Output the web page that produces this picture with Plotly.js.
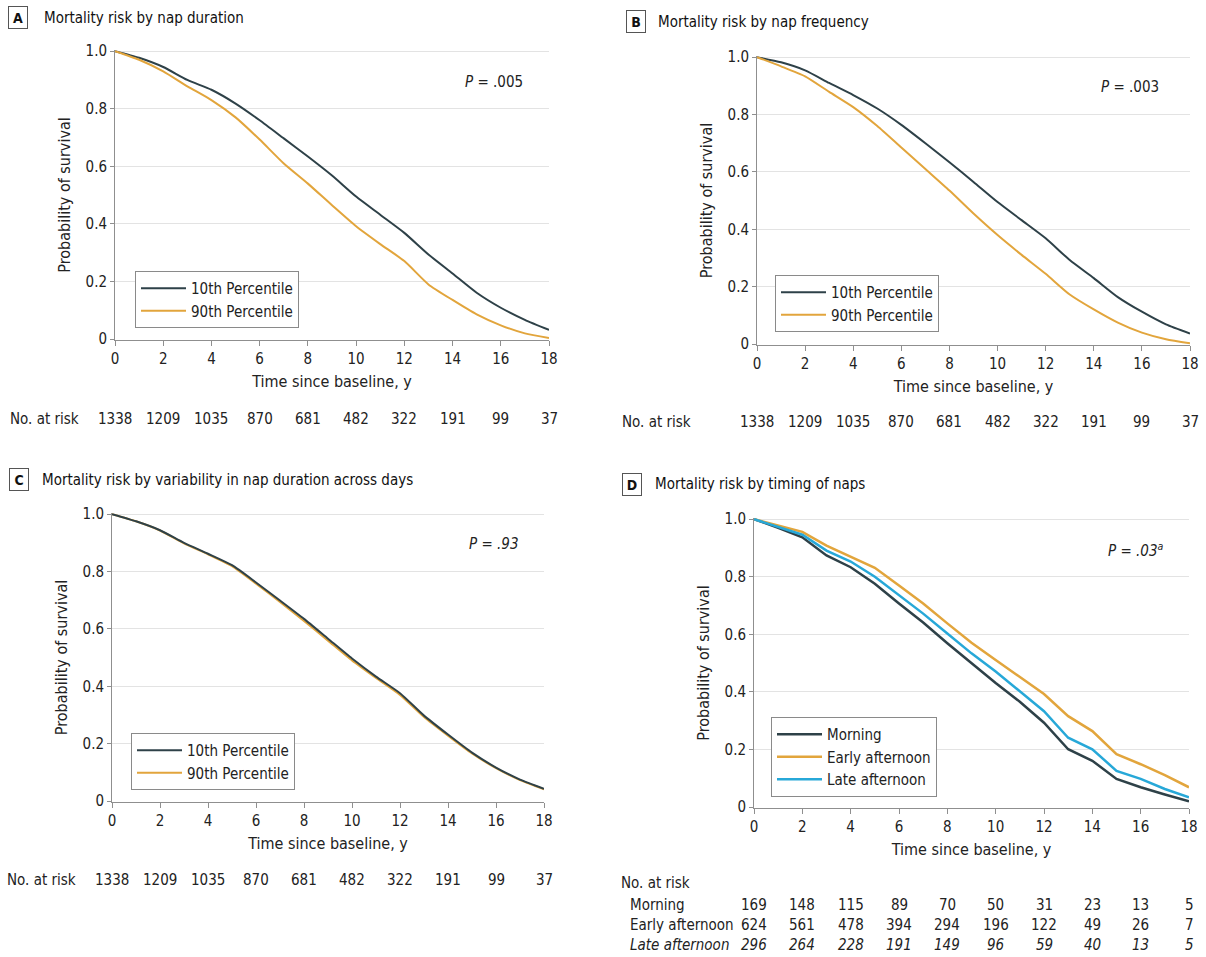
<!DOCTYPE html>
<html>
<head>
<meta charset="utf-8">
<script src="https://cdn.plot.ly/plotly-3.0.1.min.js"></script>
<style>
  body { margin: 0; background: #fff; }
  #myDiv { width: 1206px; height: 957px; }
</style>
</head>
<body>
<div id="myDiv"></div>
<script>
// survival, one value per year 0..18
var years = [0,1,2,3,4,5,6,7,8,9,10,11,12,13,14,15,16,17,18];
var tickYears = [0,2,4,6,8,10,12,14,16,18];

var durP10 = [1.0,0.977,0.945,0.90,0.866,0.818,0.76,0.697,0.634,0.568,0.495,0.432,0.369,0.294,0.228,0.161,0.109,0.067,0.032];
var durP90 = [1.0,0.97,0.93,0.878,0.83,0.77,0.693,0.61,0.54,0.465,0.392,0.33,0.271,0.19,0.136,0.086,0.048,0.02,0.004];

var freqP10 = [1.0,0.982,0.954,0.91,0.868,0.821,0.764,0.70,0.634,0.565,0.495,0.432,0.369,0.293,0.230,0.164,0.113,0.069,0.037];
var freqP90 = [1.0,0.968,0.933,0.879,0.826,0.76,0.685,0.61,0.535,0.455,0.38,0.311,0.245,0.173,0.121,0.075,0.04,0.017,0.003];

var varP10 = [1.0,0.975,0.944,0.90,0.862,0.822,0.762,0.699,0.635,0.566,0.497,0.434,0.376,0.298,0.232,0.169,0.117,0.075,0.043];
var varP90 = [1.0,0.975,0.943,0.898,0.86,0.819,0.758,0.694,0.628,0.559,0.49,0.429,0.37,0.293,0.228,0.166,0.115,0.073,0.041];

var morning = [1.0,0.97,0.937,0.874,0.833,0.776,0.707,0.641,0.569,0.50,0.431,0.366,0.293,0.201,0.161,0.098,0.069,0.044,0.02];
var earlyAft = [1.0,0.978,0.956,0.908,0.87,0.831,0.77,0.707,0.638,0.571,0.511,0.452,0.393,0.316,0.264,0.184,0.149,0.111,0.069];
var lateAft = [1.0,0.973,0.946,0.891,0.853,0.80,0.736,0.672,0.603,0.534,0.471,0.402,0.333,0.241,0.201,0.126,0.098,0.063,0.034];

// numbers at risk, every 2 years
var riskAll = [1338,1209,1035,870,681,482,322,191,99,37];
var riskMorning = [169,148,115,89,70,50,31,23,13,5];
var riskEarly = [624,561,478,394,294,196,122,49,26,7];
var riskLate = [296,264,228,191,149,96,59,40,13,5];

var DARK = '#2e4148', ORANGE = '#e2a53c', CYAN = '#27a8d8';
var FONT = 'DejaVu Sans Condensed, Liberation Sans Narrow, Arial Narrow, sans-serif';

var px = function(v) { return v / 1206; };
var py = function(v) { return 1 - v / 957; };

function line(y, name, color, xa, ya, leg, shape) {
  return {x: years, y: y, name: name, mode: 'lines', xaxis: xa, yaxis: ya, legend: leg,
    line: {color: color, width: 2, shape: shape || 'spline', smoothing: 0.6}, hoverinfo: 'skip'};
}

var data = [
  line(durP10, '10th Percentile', DARK, 'x', 'y', 'legend'),
  line(durP90, '90th Percentile', ORANGE, 'x', 'y', 'legend'),
  line(freqP10, '10th Percentile', DARK, 'x2', 'y2', 'legend2'),
  line(freqP90, '90th Percentile', ORANGE, 'x2', 'y2', 'legend2'),
  line(varP90, '90th Percentile', ORANGE, 'x3', 'y3', 'legend3'),
  line(varP10, '10th Percentile', DARK, 'x3', 'y3', 'legend3'),
  line(morning, 'Morning', DARK, 'x4', 'y4', 'legend4', 'linear'),
  line(earlyAft, 'Early afternoon', ORANGE, 'x4', 'y4', 'legend4', 'linear'),
  line(lateAft, 'Late afternoon', CYAN, 'x4', 'y4', 'legend4', 'linear')
];
data.forEach(function(t) { if (t.xaxis === 'x4') t.line.width = 2.5; });
// keep legend order 10th then 90th in panel C
data[4].legendrank = 2; data[5].legendrank = 1;

function xAxis(d0, d1, anchor) {
  return {domain: [px(d0), px(d1)], anchor: anchor, range: [0, 18], tickvals: tickYears,
    showline: true, linecolor: '#8f8f8f', linewidth: 1, ticks: 'outside', ticklen: 5, tickcolor: '#8f8f8f',
    showgrid: false, zeroline: false, tickfont: {size: 15, color: '#222'}, fixedrange: true,
    title: {text: 'Time since baseline, y', font: {size: 16, color: '#222'}, standoff: 8}};
}
function yAxis(top, bottom, anchor) {
  return {domain: [py(bottom), py(top)], anchor: anchor, range: [-0.003, 1.004],
    tickvals: [0, 0.2, 0.4, 0.6, 0.8, 1.0], ticktext: ['0', '0.2', '0.4', '0.6', '0.8', '1.0'],
    showline: true, linecolor: '#8f8f8f', linewidth: 1, ticks: 'outside', ticklen: 4, tickcolor: '#8f8f8f',
    showgrid: true, gridcolor: '#e3e3e3', gridwidth: 1, zeroline: false,
    tickfont: {size: 15, color: '#222'}, fixedrange: true,
    title: {text: 'Probability of survival', font: {size: 16, color: '#222'}, standoff: 10}};
}
function legendBox(x, y) {
  return {x: px(x), y: py(y), xanchor: 'left', yanchor: 'top', bgcolor: '#fff',
    bordercolor: '#8a8a8a', borderwidth: 1, font: {size: 15, color: '#222'}, tracegroupgap: 0,
    itemwidth: 45};
}

var annotations = [];
function panelTitle(letter, text, bx, by, tx) {
  annotations.push({xref: 'paper', yref: 'paper', x: px(bx), y: py(by), text: '<b>' + letter + '</b>',
    showarrow: false, font: {size: 14, color: '#111'}, bordercolor: '#555', borderwidth: 1,
    borderpad: 2, width: 14, height: 17, xanchor: 'center', yanchor: 'middle'});
  annotations.push({xref: 'paper', yref: 'paper', x: px(tx), y: py(by), text: text, showarrow: false,
    font: {size: 15, color: '#111'}, xanchor: 'left', yanchor: 'middle'});
}
panelTitle('A', 'Mortality risk by nap duration', 18, 18, 42);
panelTitle('B', 'Mortality risk by nap frequency', 636, 22, 656);
panelTitle('C', 'Mortality risk by variability in nap duration across days', 19, 480, 40);
panelTitle('D', 'Mortality risk by timing of naps', 632, 484, 653);

function pval(text, xa, ya, x, y) {
  annotations.push({xref: xa, yref: ya, x: x, y: y, text: text, showarrow: false,
    font: {size: 15, color: '#222'}, xanchor: 'center', yanchor: 'middle'});
}
pval('<i>P</i> = .005', 'x', 'y', 15.7, 0.893);
pval('<i>P</i> = .003', 'x2', 'y2', 15.5, 0.896);
pval('<i>P = .93</i>', 'x3', 'y3', 15.9, 0.896);
pval('<i>P = .03<sup>a</sup></i>', 'x4', 'y4', 15.8, 0.893);

function riskRow(label, labelX, values, xa, yPix, italic) {
  var wrap = function(s) { return italic ? '<i>' + s + '</i>' : s; };
  if (label) {
    annotations.push({xref: 'paper', yref: 'paper', x: px(labelX), y: py(yPix), text: wrap(label),
      showarrow: false, font: {size: 15, color: '#222'}, xanchor: 'left', yanchor: 'middle'});
  }
  values.forEach(function(v, i) {
    annotations.push({xref: xa, yref: 'paper', x: tickYears[i], y: py(yPix), text: wrap(String(v)),
      showarrow: false, font: {size: 15, color: '#222'}, xanchor: 'center', yanchor: 'middle'});
  });
}
riskRow('No. at risk', 8, riskAll, 'x', 419);
riskRow('No. at risk', 620, riskAll, 'x2', 422);
riskRow('No. at risk', 5, riskAll, 'x3', 880);
annotations.push({xref: 'paper', yref: 'paper', x: px(619), y: py(883), text: 'No. at risk',
  showarrow: false, font: {size: 15, color: '#222'}, xanchor: 'left', yanchor: 'middle'});
riskRow('Morning', 628, riskMorning, 'x4', 905);
riskRow('Early afternoon', 628, riskEarly, 'x4', 925);
riskRow('Late afternoon', 628, riskLate, 'x4', 945, true);

var layout = {
  width: 1206, height: 957,
  margin: {l: 0, r: 0, t: 0, b: 0},
  paper_bgcolor: '#fff', plot_bgcolor: '#fff',
  font: {family: FONT, color: '#222'},
  showlegend: true,
  xaxis: xAxis(115, 549, 'y'),   yaxis: yAxis(50, 340, 'x'),
  xaxis2: xAxis(757, 1190, 'y2'), yaxis2: yAxis(56, 345, 'x2'),
  xaxis3: xAxis(112, 544, 'y3'), yaxis3: yAxis(513, 802, 'x3'),
  xaxis4: xAxis(754, 1189, 'y4'), yaxis4: yAxis(518, 808, 'x4'),
  legend: legendBox(135, 271),
  legend2: legendBox(775, 275),
  legend3: legendBox(131, 733),
  legend4: legendBox(771, 717),
  annotations: annotations
};

Plotly.newPlot('myDiv', data, layout, {displayModeBar: false, staticPlot: true});
</script>
</body>
</html>
